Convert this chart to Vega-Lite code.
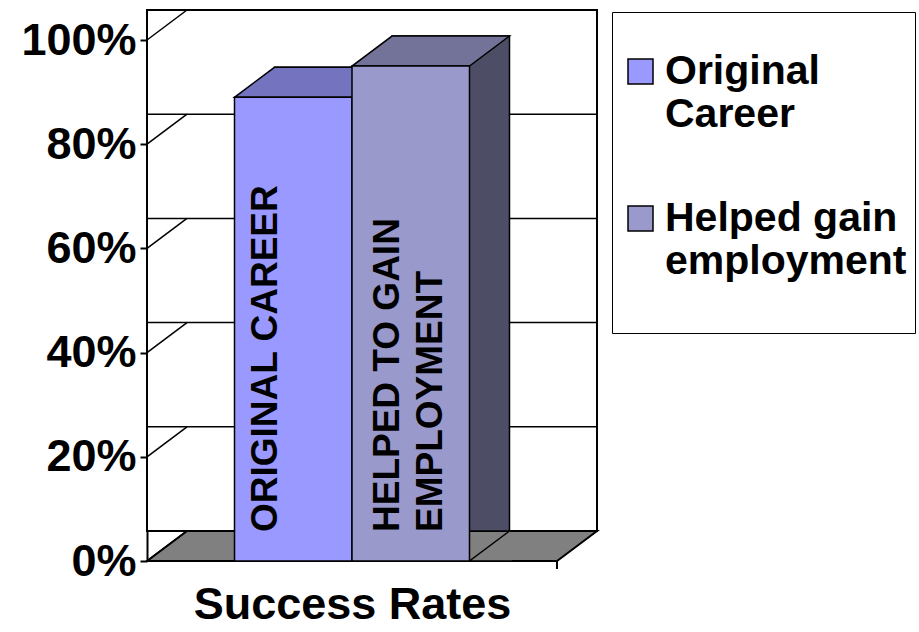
{
  "$schema": "https://vega.github.io/schema/vega-lite/v6.json",
  "width": 410,
  "height": 521,
  "autosize": {"type": "none"},
  "padding": {"left": 147, "top": 40, "right": 362, "bottom": 71},
  "background": "white",
  "config": {
    "font": "Liberation Sans",
    "view": {"stroke": null},
    "text": {"lineBreak": "\n"}
  },
  "datasets": {
    "bars": [
      {"series": "Original Career", "value": 89, "label": "ORIGINAL CAREER"},
      {"series": "Helped gain employment", "value": 95, "label": "HELPED TO GAIN\nEMPLOYMENT"}
    ],
    "ticks": [{"v": 0}, {"v": 20}, {"v": 40}, {"v": 60}, {"v": 80}, {"v": 100}],
    "one": [{"k": 1}]
  },
  "layer": [
    {
      "data": {"name": "one"},
      "mark": {"type": "rect", "fill": "white", "stroke": "black", "strokeWidth": 2, "xOffset": 40, "x2Offset": 40, "yOffset": -30, "y2Offset": -30},
      "encoding": {
        "y": {"datum": 100, "type": "quantitative", "scale": {"domain": [0, 100], "nice": false, "zero": true},
          "axis": {"values": [0, 20, 40, 60, 80, 100], "labelExpr": "datum.value + '%'", "labelFontSize": 45, "labelFontWeight": "bold", "labelColor": "black", "tickColor": "black", "tickSize": 7, "tickWidth": 2, "domainColor": "black", "domainWidth": 2, "grid": false, "title": null, "labelPadding": 4}},
        "y2": {"datum": 0}
      }
    },
    {
      "data": {"name": "ticks"},
      "mark": {"type": "rule", "stroke": "black", "strokeWidth": 1.5, "xOffset": 40, "x2Offset": 40, "yOffset": -30},
      "encoding": {"y": {"field": "v", "type": "quantitative"}}
    },
    {
      "data": {"name": "one"},
      "mark": {"type": "point", "shape": "M-205,0L205,0L245,-30L-165,-30Z M205,0L205,8", "size": 4, "filled": true, "fill": "#808080", "stroke": "black", "strokeWidth": 2, "opacity": 1},
      "encoding": {"y": {"datum": 0, "type": "quantitative"}}
    },
    {
      "data": {"name": "ticks"},
      "mark": {"type": "point", "shape": "M-205,0L-165,-30", "size": 4, "filled": false, "stroke": "black", "strokeWidth": 1.5, "opacity": 1},
      "encoding": {"y": {"field": "v", "type": "quantitative"}}
    },
    {
      "data": {"name": "bars"},
      "mark": {"type": "bar", "stroke": "black", "strokeWidth": 1.5, "xOffset": 40, "x2Offset": 40, "yOffset": -30, "y2Offset": 0},
      "encoding": {
        "x": {"field": "series", "type": "nominal", "sort": null,
          "scale": {"type": "band", "domain": ["Original Career", "Helped gain employment"], "paddingInner": 0, "paddingOuter": 0.7447},
          "axis": {"labels": false, "ticks": false, "domain": false, "title": "Success Rates", "titleFontSize": 45, "titleFontWeight": "bold", "titleColor": "black", "titlePadding": 21}},
        "y": {"field": "value", "type": "quantitative"},
        "fill": {"condition": {"test": "datum.series == 'Original Career'", "value": "#5A5A8C"}, "value": "#4D4D66"}
      }
    },
    {
      "data": {"name": "bars"},
      "mark": {"type": "point", "shape": "M98.75,-30L58.75,0L101,0", "size": 4, "filled": true, "fill": "#808080", "stroke": "black", "strokeWidth": 1.5, "opacity": 1},
      "encoding": {
        "x": {"field": "series", "type": "nominal"},
        "y": {"datum": 0, "type": "quantitative"}
      }
    },
    {
      "data": {"name": "bars"},
      "mark": {"type": "point", "shape": "M-58.75,0L58.75,0L98.75,-30L-18.75,-30Z", "size": 4, "filled": true, "stroke": "black", "strokeWidth": 1.5, "opacity": 1},
      "encoding": {
        "x": {"field": "series", "type": "nominal"},
        "y": {"field": "value", "type": "quantitative"},
        "fill": {"condition": {"test": "datum.series == 'Original Career'", "value": "#7373BF"}, "value": "#737399"}
      }
    },
    {
      "data": {"name": "bars"},
      "mark": {"type": "bar", "stroke": "black", "strokeWidth": 1.5, "opacity": 1},
      "encoding": {
        "x": {"field": "series", "type": "nominal"},
        "y": {"field": "value", "type": "quantitative"},
        "color": {"field": "series", "type": "nominal",
          "scale": {"domain": ["Original Career", "Helped gain employment"], "range": ["#9999FF", "#9999CC"]},
          "legend": {"orient": "none", "legendX": 465, "legendY": -28, "title": " ", "titleFontSize": 10, "titlePadding": 21, "labelFontSize": 41, "labelFontWeight": "bold", "labelColor": "black", "symbolType": "square", "symbolSize": 625, "symbolStrokeColor": "black", "symbolStrokeWidth": 1.5, "labelOffset": 4, "labelLimit": 400, "labelExpr": "datum.label == 'Original Career' ? ['Original', 'Career'] : ['Helped gain', 'employment', '']", "strokeColor": "black", "fillColor": "white", "padding": 8, "rowPadding": 62,
            "encode": {"labels": {"update": {"lineHeight": {"value": 46}}}}}}
      }
    },
    {
      "data": {"name": "bars"},
      "transform": [{"filter": "datum.series == 'Original Career'"}],
      "mark": {"type": "text", "angle": 270, "align": "left", "baseline": "middle", "fontSize": 37, "fontWeight": "bold", "color": "black", "xOffset": -27, "yOffset": -29},
      "encoding": {
        "x": {"field": "series", "type": "nominal"},
        "y": {"datum": 0, "type": "quantitative"},
        "text": {"field": "label"}
      }
    },
    {
      "data": {"name": "bars"},
      "transform": [{"filter": "datum.series != 'Original Career'"}],
      "mark": {"type": "text", "angle": 270, "align": "left", "baseline": "middle", "fontSize": 37, "fontWeight": "bold", "color": "black", "xOffset": -23, "yOffset": -29, "lineHeight": 43},
      "encoding": {
        "x": {"field": "series", "type": "nominal"},
        "y": {"datum": 0, "type": "quantitative"},
        "text": {"field": "label"}
      }
    }
  ]
}
